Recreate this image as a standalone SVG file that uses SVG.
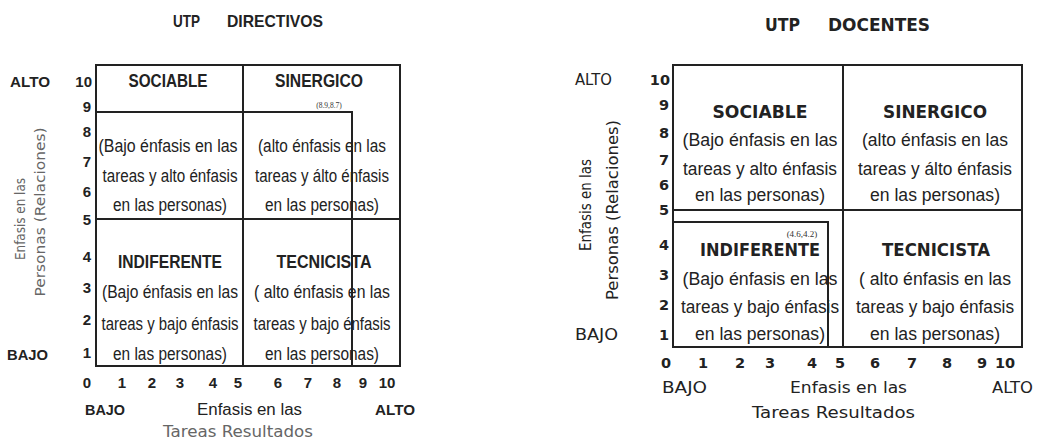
<svg xmlns="http://www.w3.org/2000/svg" width="1038" height="439" viewBox="0 0 1038 439">
<style>
.bg{fill:#fff}
.frame{fill:none;stroke:#222;stroke-width:2}
.ln{stroke:#222;stroke-width:2}
.t{font-family:"Liberation Sans",Arial,sans-serif;fill:#222}
.tb{font-family:"Liberation Sans",Arial,sans-serif;font-weight:bold;fill:#222}
.d{font-family:"DejaVu Sans",Verdana,sans-serif;fill:#222}
.db{font-family:"DejaVu Sans",Verdana,sans-serif;font-weight:bold;fill:#222}
.gray{fill:#666}
.sm{font-family:"Liberation Serif","Times New Roman",serif;fill:#333}
.m{text-anchor:middle}
.e{text-anchor:end}
</style>
<rect class="bg" x="0" y="0" width="1038" height="439"/>

<!-- LEFT: UTP DIRECTIVOS -->
<g id="left-title">
<text class="tb" x="173" y="27" font-size="16.5" textLength="27" lengthAdjust="spacingAndGlyphs">UTP</text>
<text class="tb" x="227" y="27" font-size="16.5" textLength="96" lengthAdjust="spacingAndGlyphs">DIRECTIVOS</text>
</g>
<g id="left-yaxis">
<text class="tb" x="10" y="87" font-size="15.5" textLength="40" lengthAdjust="spacingAndGlyphs">ALTO</text>
<text class="tb" x="7" y="360" font-size="15.5" textLength="41" lengthAdjust="spacingAndGlyphs">BAJO</text>
<g class="tb e" font-size="15">
<text x="92" y="87">10</text>
<text x="91" y="112">9</text>
<text x="91" y="137">8</text>
<text x="91" y="167">7</text>
<text x="91" y="197">6</text>
<text x="91" y="225">5</text>
<text x="91" y="262">4</text>
<text x="91" y="293">3</text>
<text x="91" y="325">2</text>
<text x="91" y="358">1</text>
</g>
<text class="d gray m" transform="translate(25,219) rotate(-90)" font-size="14" textLength="82" lengthAdjust="spacingAndGlyphs">Enfasis en las</text>
<text class="d gray m" transform="translate(45,212) rotate(-90)" font-size="14" textLength="169" lengthAdjust="spacingAndGlyphs">Personas (Relaciones)</text>
</g>
<g id="left-xaxis">
<g class="tb m" font-size="15">
<text x="87" y="388">0</text>
<text x="122" y="388">1</text>
<text x="152" y="388">2</text>
<text x="180" y="388">3</text>
<text x="213" y="388">4</text>
<text x="238" y="388">5</text>
<text x="278" y="388">6</text>
<text x="308" y="388">7</text>
<text x="337" y="388">8</text>
<text x="363" y="388">9</text>
<text x="387" y="388">10</text>
</g>
<text class="tb" x="85" y="415" font-size="15" textLength="40" lengthAdjust="spacingAndGlyphs">BAJO</text>
<text class="t" x="197" y="415" font-size="16" textLength="105" lengthAdjust="spacingAndGlyphs">Enfasis en las</text>
<text class="tb" x="375" y="415" font-size="15" textLength="40" lengthAdjust="spacingAndGlyphs">ALTO</text>
<text class="d gray" x="163" y="437" font-size="15" textLength="150" lengthAdjust="spacingAndGlyphs">Tareas  Resultados</text>
</g>
<g id="left-grid">
<rect class="frame" x="96" y="65" width="304" height="301"/>
<line class="ln" x1="243" y1="65" x2="243" y2="366"/>
<line class="ln" x1="96" y1="219" x2="400" y2="219"/>
</g>
<g id="left-score">
<polyline class="frame" points="96,112 352,112 352,366"/>
<text class="sm m" x="329" y="108" font-size="7.5">(8.9,8.7)</text>
</g>
<g id="left-sociable">
<text class="tb m" x="168" y="87" font-size="18" textLength="79" lengthAdjust="spacingAndGlyphs">SOCIABLE</text>
<text class="t m" x="168" y="152" font-size="17.5" textLength="139" lengthAdjust="spacingAndGlyphs">(Bajo énfasis en las</text>
<text class="t m" x="170" y="182" font-size="17.5" textLength="135" lengthAdjust="spacingAndGlyphs">tareas y alto énfasis</text>
<text class="t m" x="170" y="211" font-size="17.5" textLength="114" lengthAdjust="spacingAndGlyphs">en las personas)</text>
</g>
<g id="left-sinergico">
<text class="tb m" x="319" y="87" font-size="18" textLength="88" lengthAdjust="spacingAndGlyphs">SINERGICO</text>
<text class="t m" x="322" y="152" font-size="17.5" textLength="128" lengthAdjust="spacingAndGlyphs">(alto énfasis en las</text>
<text class="t m" x="322" y="182" font-size="17.5" textLength="134" lengthAdjust="spacingAndGlyphs">tareas y álto énfasis</text>
<text class="t m" x="322" y="211" font-size="17.5" textLength="114" lengthAdjust="spacingAndGlyphs">en las personas)</text>
</g>
<g id="left-indiferente">
<text class="tb m" x="170" y="268" font-size="18" textLength="104" lengthAdjust="spacingAndGlyphs">INDIFERENTE</text>
<text class="t m" x="170" y="298" font-size="17.5" textLength="136" lengthAdjust="spacingAndGlyphs">(Bajo énfasis en las</text>
<text class="t m" x="170" y="330" font-size="17.5" textLength="137" lengthAdjust="spacingAndGlyphs">tareas y bajo énfasis</text>
<text class="t m" x="170" y="360" font-size="17.5" textLength="114" lengthAdjust="spacingAndGlyphs">en las personas)</text>
</g>
<g id="left-tecnicista">
<text class="tb m" x="324" y="268" font-size="18" textLength="95" lengthAdjust="spacingAndGlyphs">TECNICISTA</text>
<text class="t m" x="322" y="298" font-size="17.5" textLength="136" lengthAdjust="spacingAndGlyphs">( alto énfasis en las</text>
<text class="t m" x="322" y="330" font-size="17.5" textLength="137" lengthAdjust="spacingAndGlyphs">tareas y bajo énfasis</text>
<text class="t m" x="322" y="360" font-size="17.5" textLength="114" lengthAdjust="spacingAndGlyphs">en las personas)</text>
</g>

<!-- RIGHT: UTP DOCENTES -->
<g id="right-title">
<text class="db" x="765" y="31" font-size="17" textLength="35" lengthAdjust="spacingAndGlyphs">UTP</text>
<text class="db" x="828" y="31" font-size="17" textLength="102" lengthAdjust="spacingAndGlyphs">DOCENTES</text>
</g>
<g id="right-yaxis">
<text class="d" x="575" y="85" font-size="15" textLength="37" lengthAdjust="spacingAndGlyphs">ALTO</text>
<text class="d" x="575" y="340" font-size="15" textLength="43" lengthAdjust="spacingAndGlyphs">BAJO</text>
<g class="db e" font-size="14.5">
<text x="670" y="85">10</text>
<text x="669" y="110">9</text>
<text x="669" y="138">8</text>
<text x="669" y="165">7</text>
<text x="669" y="190">6</text>
<text x="669" y="215">5</text>
<text x="669" y="250">4</text>
<text x="669" y="280">3</text>
<text x="669" y="310">2</text>
<text x="669" y="340">1</text>
</g>
<text class="d m" transform="translate(591,205) rotate(-90)" font-size="15" textLength="92" lengthAdjust="spacingAndGlyphs">Enfasis en las</text>
<text class="d m" transform="translate(618,210) rotate(-90)" font-size="15" textLength="180" lengthAdjust="spacingAndGlyphs">Personas (Relaciones)</text>
</g>
<g id="right-xaxis">
<g class="db m" font-size="14.5">
<text x="666" y="368">0</text>
<text x="703" y="368">1</text>
<text x="740" y="368">2</text>
<text x="770" y="368">3</text>
<text x="812" y="368">4</text>
<text x="840" y="368">5</text>
<text x="875" y="368">6</text>
<text x="912" y="368">7</text>
<text x="947" y="368">8</text>
<text x="982" y="368">9</text>
<text x="1005" y="368">10</text>
</g>
<text class="d" x="662" y="393" font-size="15" textLength="45" lengthAdjust="spacingAndGlyphs">BAJO</text>
<text class="d" x="790" y="393" font-size="16" textLength="117" lengthAdjust="spacingAndGlyphs">Enfasis en las</text>
<text class="d" x="992" y="393" font-size="15" textLength="41" lengthAdjust="spacingAndGlyphs">ALTO</text>
<text class="d" x="752" y="418" font-size="16" textLength="163" lengthAdjust="spacingAndGlyphs">Tareas  Resultados</text>
</g>
<g id="right-grid">
<rect class="frame" x="673" y="65" width="349" height="282"/>
<line class="ln" x1="843" y1="65" x2="843" y2="347"/>
<line class="ln" x1="673" y1="210" x2="1022" y2="210"/>
</g>
<g id="right-score">
<polyline class="frame" points="673,222 828,222 828,347"/>
<text class="sm m" x="802" y="237" font-size="9">(4.6,4.2)</text>
</g>
<g id="right-sociable">
<text class="db m" x="760" y="118" font-size="17" textLength="95" lengthAdjust="spacingAndGlyphs">SOCIABLE</text>
<text class="t m" x="760" y="146" font-size="17.5" textLength="155" lengthAdjust="spacingAndGlyphs">(Bajo énfasis en las</text>
<text class="t m" x="760" y="175" font-size="17.5" textLength="154" lengthAdjust="spacingAndGlyphs">tareas y alto énfasis</text>
<text class="t m" x="760" y="201" font-size="17.5" textLength="130" lengthAdjust="spacingAndGlyphs">en las personas)</text>
</g>
<g id="right-sinergico">
<text class="db m" x="935" y="118" font-size="17" textLength="104" lengthAdjust="spacingAndGlyphs">SINERGICO</text>
<text class="t m" x="935" y="146" font-size="17.5" textLength="146" lengthAdjust="spacingAndGlyphs">(alto énfasis en las</text>
<text class="t m" x="935" y="175" font-size="17.5" textLength="154" lengthAdjust="spacingAndGlyphs">tareas y álto énfasis</text>
<text class="t m" x="935" y="201" font-size="17.5" textLength="130" lengthAdjust="spacingAndGlyphs">en las personas)</text>
</g>
<g id="right-indiferente">
<text class="db m" x="760" y="256" font-size="17" textLength="120" lengthAdjust="spacingAndGlyphs">INDIFERENTE</text>
<text class="t m" x="760" y="285" font-size="17.5" textLength="155" lengthAdjust="spacingAndGlyphs">(Bajo énfasis en las</text>
<text class="t m" x="760" y="313" font-size="17.5" textLength="158" lengthAdjust="spacingAndGlyphs">tareas y bajo énfasis</text>
<text class="t m" x="760" y="340" font-size="17.5" textLength="130" lengthAdjust="spacingAndGlyphs">en las personas)</text>
</g>
<g id="right-tecnicista">
<text class="db m" x="936" y="256" font-size="17" textLength="108" lengthAdjust="spacingAndGlyphs">TECNICISTA</text>
<text class="t m" x="935" y="285" font-size="17.5" textLength="152" lengthAdjust="spacingAndGlyphs">( alto énfasis en las</text>
<text class="t m" x="935" y="313" font-size="17.5" textLength="158" lengthAdjust="spacingAndGlyphs">tareas y bajo énfasis</text>
<text class="t m" x="935" y="340" font-size="17.5" textLength="130" lengthAdjust="spacingAndGlyphs">en las personas)</text>
</g>
</svg>
